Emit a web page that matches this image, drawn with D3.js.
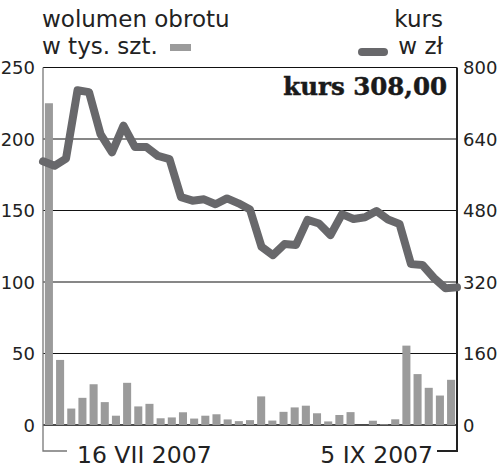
<!DOCTYPE html>
<html><head><meta charset="utf-8">
<script src="https://cdn.jsdelivr.net/npm/d3@7"></script>
<style>html,body{margin:0;padding:0;background:#fff}svg{display:block}</style>
</head><body><svg id="c" width="500" height="468"></svg>
<script>
const volume = [225,45.5,11.5,19,28.5,16,6.5,29.5,13,14.8,4.7,5.3,8.9,4.5,6.5,7.5,3.9,2.7,3.4,20,3.1,9.2,12.3,13.5,8.2,2.5,7,9,0,3,0.5,4,55.5,35.6,26,20.6,31.6];
const price = [590,580,596,749,745,651,610,670,622,622,602,595,510,502,505,494,507,496,482,399,380,405,403,459,451,425,472,461,465,479,460,450,360,358,329,306,308];
const leftTicks = [0,50,100,150,200,250];
const rightTicks = [0,160,320,480,640,800];
const dateLabels = ["16 VII 2007","5 IX 2007"];
const titleVol = ["wolumen obrotu","w tys. szt."];
const titlePrice = ["kurs","w zł"];
const lastLabel = "kurs 308,00";

const svg = d3.select("#c");
const L=43,R=457,T=67.5,B=425;
const yL = d3.scaleLinear().domain([0,250]).range([B,T]);
const yR = d3.scaleLinear().domain([0,800]).range([B,T]);
const idx = d3.range(volume.length);
const xb = d3.scaleBand().domain(idx).range([L,R]).paddingInner(0.28).paddingOuter(0.17);
const xp = d3.scalePoint().domain(idx).range([L,R]);
const font = "DejaVu Sans, sans-serif";

// gridlines
svg.append("g").selectAll("line").data(leftTicks.filter(d=>d>0&&d<250)).join("line")
  .attr("x1",L).attr("x2",R).attr("y1",d=>yL(d)).attr("y2",d=>yL(d))
  .attr("stroke","#111").attr("stroke-width",1.2);
// top border
svg.append("line").attr("x1",L).attr("x2",R).attr("y1",yL(250)).attr("y2",yL(250)).attr("stroke","#111").attr("stroke-width",1.2);
// baseline
svg.append("line").attr("x1",L).attr("x2",R).attr("y1",yL(0)).attr("y2",yL(0)).attr("stroke","#111").attr("stroke-width",1.5);

// bars
svg.append("g").selectAll("rect").data(volume).join("rect")
  .attr("x",(d,i)=>xb(i)).attr("width",xb.bandwidth())
  .attr("y",d=>yL(d)).attr("height",d=>yL(0)-yL(d))
  .attr("fill","#9b9b9b");

// frame
svg.append("path").attr("d",`M${L},${T} V451 H67`).attr("fill","none").attr("stroke","#777").attr("stroke-width",1.3);
svg.append("path").attr("d",`M${R},${T} V451 H437`).attr("fill","none").attr("stroke","#222").attr("stroke-width",2);

// line
const line = d3.line().x((d,i)=>xp(i)).y(d=>yR(d));
svg.append("path").datum(price).attr("d",line).attr("fill","none")
  .attr("stroke","#68686b").attr("stroke-width",8).attr("stroke-linejoin","round").attr("stroke-linecap","round");

// axes
const axL = d3.axisLeft(yL).tickValues(leftTicks).tickSize(0).tickPadding(0);
const gL = svg.append("g").attr("transform","translate(35,0)").call(axL);
const axR = d3.axisRight(yR).tickValues(rightTicks).tickSize(0).tickPadding(0);
const gR = svg.append("g").attr("transform","translate(463,0)").call(axR);
[gL,gR].forEach(g=>{g.select(".domain").remove();
  g.selectAll("text").attr("font-family",font).attr("font-size",18).attr("fill","#222").attr("dy","0.35em");});

// date labels
svg.append("text").attr("x",77).attr("y",463).attr("font-family",font).attr("font-size",23.5).attr("fill","#222").text(dateLabels[0]);
svg.append("text").attr("x",433).attr("y",463).attr("text-anchor","end").attr("font-family",font).attr("font-size",23.5).attr("fill","#222").text(dateLabels[1]);

// titles
svg.append("text").attr("x",42).attr("y",27).attr("font-family",font).attr("font-size",23).attr("fill","#222").text(titleVol[0]);
svg.append("text").attr("x",42).attr("y",54).attr("font-family",font).attr("font-size",23).attr("fill","#222").text(titleVol[1]);
svg.append("rect").attr("x",170).attr("y",44).attr("width",21).attr("height",7).attr("fill","#9b9b9b");
svg.append("text").attr("x",443).attr("y",27).attr("text-anchor","end").attr("font-family",font).attr("font-size",23).attr("fill","#222").text(titlePrice[0]);
svg.append("text").attr("x",443).attr("y",54).attr("text-anchor","end").attr("font-family",font).attr("font-size",23).attr("fill","#222").text(titlePrice[1]);
svg.append("line").attr("x1",362).attr("x2",384).attr("y1",52).attr("y2",52).attr("stroke","#68686b").attr("stroke-width",8).attr("stroke-linecap","round");

svg.append("text").attr("x",447).attr("y",95).attr("text-anchor","end").attr("font-family","DejaVu Serif, serif").attr("font-weight","bold").attr("font-size",24.5).attr("fill","#1a1a1a").attr("stroke","#1a1a1a").attr("stroke-width",0.5).text(lastLabel);
</script></body></html>
